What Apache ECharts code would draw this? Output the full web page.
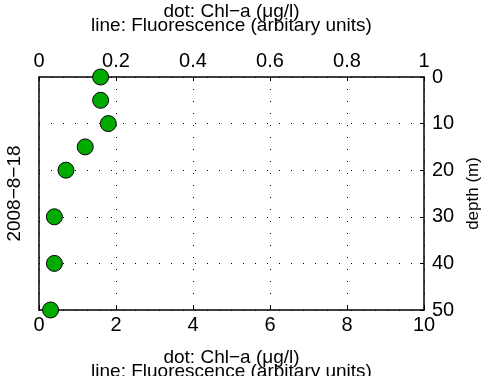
<!DOCTYPE html>
<html>
<head>
<meta charset="utf-8">
<script src="https://cdn.jsdelivr.net/npm/echarts@6/dist/echarts.min.js"></script>
<style>
  html, body { margin: 0; padding: 0; background: #fff; }
  #chart { width: 486px; height: 376px; }
</style>
</head>
<body>
<div id="chart"></div>
<script>
// Chl-a dots: value on bottom axis (0-10), depth on right axis
const depths = [0, 5, 10, 15, 20, 30, 40, 50];
const chla = [1.6, 1.6, 1.8, 1.2, 0.7, 0.4, 0.4, 0.3];
const bottomTicks = [0, 10, 2];   // min, max, interval
const topTicks = [0, 1, 0.2];
const depthTicks = [0, 50, 10];

const dateLabel = '2008\u22128\u221218';
const xTitle = 'dot: Chl\u2212a (\u03bcg/l)\nline: Fluorescence (arbitary units)';

const font = 'Liberation Sans, Arial, Helvetica, sans-serif';
const fs = 19;
const tickFs = 20;

var myChart = echarts.init(document.getElementById('chart'));

const dotted = { color: '#000', width: 1, type: [1, 11] };
const axisLine = { show: true, onZero: false, lineStyle: { color: '#000', width: 1.5 } };
const tick = { show: true, inside: true, length: 4, lineStyle: { color: '#000' } };

myChart.setOption({
  animation: false,
  textStyle: { fontFamily: font },
  grid: { left: 39, right: 62, top: 77, bottom: 66, containLabel: false, outerBoundsMode: 'none' },
  xAxis: [
    {
      type: 'value', position: 'bottom',
      min: bottomTicks[0], max: bottomTicks[1], interval: bottomTicks[2],
      axisLine: axisLine, axisTick: tick,
      axisLabel: { fontSize: tickFs, color: '#000', margin: 5, fontFamily: font },
      splitLine: { show: true, lineStyle: dotted },
      name: xTitle, nameLocation: 'middle', nameGap: 41,
      nameTextStyle: { fontSize: fs, color: '#000', lineHeight: 14, fontFamily: font }
    },
    {
      type: 'value', position: 'top',
      min: topTicks[0], max: topTicks[1], interval: topTicks[2],
      axisLine: axisLine, axisTick: tick,
      axisLabel: { fontSize: tickFs, color: '#000', margin: 6, fontFamily: font },
      splitLine: { show: false },
      name: xTitle, nameLocation: 'middle', nameGap: 44,
      nameTextStyle: { fontSize: fs, color: '#000', lineHeight: 14, fontFamily: font }
    }
  ],
  yAxis: [
    {
      type: 'value', position: 'right', inverse: true,
      min: depthTicks[0], max: depthTicks[1], interval: depthTicks[2],
      axisLine: axisLine, axisTick: tick,
      axisLabel: { fontSize: tickFs, color: '#000', margin: 8, fontFamily: font },
      splitLine: { show: true, lineStyle: dotted },
      name: 'depth (m)', nameLocation: 'middle', nameGap: 37, nameRotate: 90,
      nameTextStyle: { fontSize: 17, color: '#000', fontFamily: font }
    },
    {
      type: 'value', position: 'left', inverse: true,
      min: depthTicks[0], max: depthTicks[1], interval: depthTicks[2],
      axisLine: axisLine, axisTick: { show: false },
      axisLabel: { show: false },
      splitLine: { show: false },
      name: dateLabel, nameLocation: 'middle', nameGap: 15,
      nameTextStyle: { fontSize: fs, color: '#000', fontFamily: font }
    }
  ],
  series: [
    {
      type: 'scatter',
      xAxisIndex: 0, yAxisIndex: 0,
      symbolSize: 16,
      clip: false,
      itemStyle: { color: '#00aa00', borderColor: '#000', borderWidth: 1, opacity: 1 },
      data: depths.map((d, i) => [chla[i], d])
    }
  ]
});
</script>
</body>
</html>
